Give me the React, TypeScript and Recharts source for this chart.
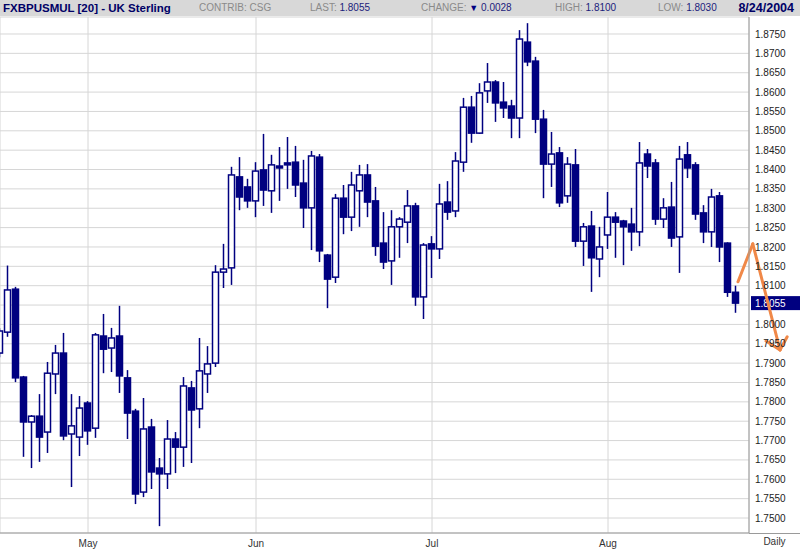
import React from "react";
import { ComposedChart, Bar, XAxis, YAxis, CartesianGrid, ReferenceLine } from "recharts";

// one trading day per index, Apr 16 .. Aug 24 2004
const opens = [
  1.7926, 1.798, 1.8091, 1.7864, 1.7748, 1.7763, 1.7722, 1.7872, 1.7926, 1.7717,
  1.7709, 1.7797, 1.7732, 1.797, 1.7939, 1.797, 1.7862, 1.7776, 1.7567, 1.7735,
  1.7629, 1.7614, 1.7704, 1.7683, 1.7836, 1.7782, 1.7872, 1.79, 1.8135, 1.8146,
  1.8381, 1.8355, 1.8319, 1.8399, 1.8345, 1.8409, 1.8417, 1.8419, 1.8365, 1.8301,
  1.8432, 1.8179, 1.8122, 1.8326, 1.8277, 1.8345, 1.8386, 1.8319, 1.821, 1.8164,
  1.8252, 1.8264, 1.8306, 1.8071, 1.8208, 1.8195, 1.8316, 1.8293, 1.8419, 1.8561,
  1.8494, 1.8603, 1.8626, 1.8574, 1.8564, 1.8533, 1.8729, 1.868, 1.853, 1.8414,
  1.8443, 1.8332, 1.8412, 1.8215, 1.8254, 1.8169, 1.8231, 1.8277, 1.8267, 1.8259,
  1.8239, 1.844, 1.8417, 1.8272, 1.8303, 1.8226, 1.8438, 1.8412, 1.8288, 1.8239,
  1.8332, 1.821, 1.8083,
];
const highs = [
  1.799, 1.8152, 1.8097, 1.7867, 1.7766, 1.782, 1.7903, 1.7947, 1.7978, 1.782,
  1.7815, 1.7802, 1.7978, 1.8027, 1.7991, 1.8048, 1.7882, 1.7782, 1.781, 1.7756,
  1.7655, 1.7753, 1.7722, 1.7864, 1.7854, 1.7965, 1.7944, 1.8153, 1.8208, 1.8407,
  1.8432, 1.8376, 1.8419, 1.8492, 1.8438, 1.8458, 1.8484, 1.8461, 1.8425, 1.8448,
  1.844, 1.8182, 1.8337, 1.836, 1.8394, 1.8412, 1.8414, 1.8355, 1.829, 1.8295,
  1.8277, 1.8347, 1.8314, 1.821, 1.8228, 1.8363, 1.837, 1.8445, 1.8585, 1.859,
  1.8623, 1.8675, 1.8631, 1.8626, 1.858, 1.876, 1.8778, 1.8691, 1.8554, 1.8497,
  1.8458, 1.8432, 1.8453, 1.8262, 1.8293, 1.8252, 1.8342, 1.829, 1.827, 1.8301,
  1.8471, 1.8453, 1.8427, 1.8326, 1.8368, 1.8461, 1.8471, 1.8419, 1.8308, 1.835,
  1.8342, 1.8212, 1.81,
];
const lows = [
  1.7915, 1.7968, 1.7851, 1.7658, 1.7629, 1.7645, 1.7668, 1.782, 1.7701, 1.758,
  1.766, 1.7689, 1.7707, 1.7874, 1.7877, 1.7823, 1.7704, 1.7536, 1.7554, 1.7575,
  1.7479, 1.7575, 1.7616, 1.7632, 1.7642, 1.7732, 1.7823, 1.789, 1.8094, 1.8102,
  1.8295, 1.8301, 1.8277, 1.8306, 1.8288, 1.8319, 1.835, 1.8329, 1.8249, 1.8192,
  1.8161, 1.8042, 1.8107, 1.8233, 1.8241, 1.8252, 1.8277, 1.8177, 1.8143, 1.8102,
  1.8172, 1.821, 1.8048, 1.8014, 1.812, 1.8169, 1.827, 1.8277, 1.8394, 1.8469,
  1.8492, 1.8572, 1.8523, 1.8533, 1.8481, 1.8481, 1.8667, 1.8494, 1.8326, 1.8355,
  1.8303, 1.8314, 1.82, 1.8151, 1.8084, 1.8122, 1.8195, 1.8172, 1.8153, 1.819,
  1.8202, 1.8378, 1.8257, 1.8249, 1.82, 1.8133, 1.8378, 1.827, 1.821, 1.82,
  1.8161, 1.8071, 1.803,
];
const closes = [
  1.7983, 1.8089, 1.7862, 1.7748, 1.7763, 1.7709, 1.7874, 1.7926, 1.7712, 1.7738,
  1.7784, 1.7725, 1.7973, 1.7936, 1.7965, 1.7867, 1.7771, 1.7562, 1.773, 1.7619,
  1.7614, 1.7704, 1.7683, 1.7841, 1.7779, 1.788, 1.7898, 1.8135, 1.8143, 1.8386,
  1.8329, 1.8319, 1.8396, 1.8347, 1.8412, 1.8404, 1.8412, 1.836, 1.8301, 1.8435,
  1.819, 1.8117, 1.8326, 1.8277, 1.836, 1.8386, 1.8316, 1.8202, 1.8161, 1.8252,
  1.8272, 1.8306, 1.8071, 1.8205, 1.8195, 1.8311, 1.829, 1.8422, 1.8561, 1.8494,
  1.8598, 1.8626, 1.8572, 1.8559, 1.8533, 1.8737, 1.8678, 1.853, 1.8414, 1.844,
  1.8314, 1.8414, 1.8215, 1.8252, 1.8172, 1.82, 1.8277, 1.8264, 1.8252, 1.8239,
  1.8417, 1.8409, 1.8272, 1.8301, 1.8223, 1.8427, 1.8404, 1.8285, 1.8239, 1.8329,
  1.82, 1.8083, 1.8055,
];

const monthTicks = [11, 32, 54, 76];
const monthLabels = ["May", "Jun", "Jul", "Aug"];
const priceTicks = [
  1.75, 1.755, 1.76, 1.765, 1.77, 1.775, 1.78, 1.785, 1.79, 1.795, 1.8, 1.805, 1.81,
  1.815, 1.82, 1.825, 1.83, 1.835, 1.84, 1.845, 1.85, 1.855, 1.86, 1.865, 1.87, 1.875,
];

// hand drawn orange arrow, in (day index, price) units
const arrowStroke = [
  { x: 92.25, y: 1.811 },
  { x: 94.1, y: 1.8208 },
  { x: 97.5, y: 1.7934 },
];
const arrowHead = [
  { x: 95.75, y: 1.7957 },
  { x: 97.5, y: 1.7934 },
  { x: 98.4, y: 1.7968 },
];

const NAVY = "#000080";
const ORANGE = "#f08848";
const FONT = "'Liberation Sans', Arial, sans-serif";

const data = opens.map((o, i) => ({
  i,
  open: o,
  high: highs[i],
  low: lows[i],
  close: closes[i],
}));

const last = data[data.length - 1];
const prevClose = closes[closes.length - 2];
const change = prevClose - last.close;

function Candle(props: any) {
  const { x, y, width, height, payload } = props;
  if (x == null || !payload) return null;
  const { open, close, high, low } = payload;
  const cx = x + width / 2;
  const top = Math.min(y, y + height);
  const span = Math.abs(height);
  const k = span / (high - low || 1);
  const yOf = (v: number) => top + (high - v) * k;
  const up = close >= open;
  const bTop = yOf(Math.max(open, close));
  const bH = Math.max(yOf(Math.min(open, close)) - bTop, 1.5);
  return (
    <g>
      <line x1={cx} x2={cx} y1={top} y2={top + span} stroke={NAVY} strokeWidth={1.5} />
      <rect
        x={cx - 3}
        y={bTop}
        width={6}
        height={bH}
        fill={up ? "#ffffff" : NAVY}
        stroke={NAVY}
        strokeWidth={1.5}
      />
    </g>
  );
}

function PriceTag(props: any) {
  const vb = props.viewBox || {};
  const right = vb.x + vb.width;
  return (
    <g>
      <rect x={right + 2} y={vb.y - 7} width={49} height={14} fill={NAVY} />
      <text x={right + 6} y={vb.y} dy="0.355em" fill="#ffffff" fontSize={10} fontFamily={FONT}>
        {last.close.toFixed(4)}
      </text>
    </g>
  );
}

const grey = { color: "#8a8a8a" };
const blue = { color: "#1c1c7c" };

export default function App() {
  return (
    <div style={{ position: "absolute", left: 0, top: 0, width: 800, height: 550, background: "#fff", fontFamily: FONT }}>
      <ComposedChart
        width={800}
        height={550}
        data={data}
        margin={{ top: 17, right: 0, bottom: 0, left: 0 }}
      >
        <CartesianGrid stroke="#d6d6d6" />
        <XAxis
          type="number"
          dataKey="i"
          domain={[0, 93.625]}
          allowDataOverflow
          ticks={monthTicks}
          tickFormatter={(v: number) => monthLabels[monthTicks.indexOf(v)] ?? ""}
          height={17}
          tickLine={false}
          axisLine={{ stroke: "#9a9a9a" }}
          tick={{ fill: "#333", fontSize: 10, fontFamily: FONT }}
          tickMargin={1}
        />
        <YAxis
          orientation="right"
          type="number"
          domain={[1.74613, 1.87939]}
          allowDataOverflow
          ticks={priceTicks}
          interval={0}
          width={51}
          tickLine={false}
          tickSize={4}
          tickMargin={2}
          axisLine={{ stroke: "#9a9a9a" }}
          tickFormatter={(v: number) => (Math.abs(v - last.close) < 0.003 ? "" : v.toFixed(4))}
          tick={{ fill: "#222", fontSize: 10, fontFamily: FONT, textAnchor: "start" }}
        />
        <Bar
          dataKey={(d: any) => [d.low, d.high]}
          barSize={7}
          shape={<Candle />}
          isAnimationActive={false}
        />
        <ReferenceLine y={last.close} stroke="none" ifOverflow="visible" label={<PriceTag />} />
        <ReferenceLine
          segment={[arrowStroke[0], arrowStroke[1]]}
          stroke={ORANGE}
          strokeWidth={3}
          strokeLinecap="round"
          ifOverflow="visible"
        />
        <ReferenceLine
          segment={[arrowStroke[1], arrowStroke[2]]}
          stroke={ORANGE}
          strokeWidth={3}
          strokeLinecap="round"
          ifOverflow="visible"
        />
        <ReferenceLine
          segment={[arrowHead[0], arrowHead[1]]}
          stroke={ORANGE}
          strokeWidth={3}
          strokeLinecap="round"
          ifOverflow="visible"
        />
        <ReferenceLine
          segment={[arrowHead[1], arrowHead[2]]}
          stroke={ORANGE}
          strokeWidth={3}
          strokeLinecap="round"
          ifOverflow="visible"
        />
      </ComposedChart>

      {/* header strip */}
      <div
        style={{
          position: "absolute",
          left: 0,
          top: 0,
          width: 800,
          height: 16,
          background: "#d8d8d8",
          fontSize: 10,
          lineHeight: "16px",
          whiteSpace: "nowrap",
        }}
      >
        <span style={{ position: "absolute", left: 3, fontWeight: "bold", fontSize: 11.5, color: "#000066" }}>
          FXBPUSMUL [20] - UK Sterling
        </span>
        <span style={{ position: "absolute", left: 199, ...grey }}>CONTRIB: CSG</span>
        <span style={{ position: "absolute", left: 310, ...grey }}>
          LAST: <span style={blue}>{last.close.toFixed(4)}</span>
        </span>
        <span style={{ position: "absolute", left: 421, ...grey }}>
          CHANGE: <span style={{ color: NAVY, fontSize: 9 }}>▼</span> <span style={blue}>{change.toFixed(4)}</span>
        </span>
        <span style={{ position: "absolute", left: 555, ...grey }}>
          HIGH: <span style={blue}>{last.high.toFixed(4)}</span>
        </span>
        <span style={{ position: "absolute", left: 658, ...grey }}>
          LOW: <span style={blue}>{last.low.toFixed(4)}</span>
        </span>
        <span style={{ position: "absolute", right: 6, fontWeight: "bold", fontSize: 12.5, color: "#000066" }}>
          8/24/2004
        </span>
      </div>

      <div
        style={{
          position: "absolute",
          left: 749,
          top: 533,
          width: 51,
          height: 17,
          borderTop: "1px solid #9a9a9a",
          boxSizing: "border-box",
          textAlign: "center",
          fontSize: 10,
          lineHeight: "16px",
          color: "#333",
        }}
      >
        Daily
      </div>
    </div>
  );
}
